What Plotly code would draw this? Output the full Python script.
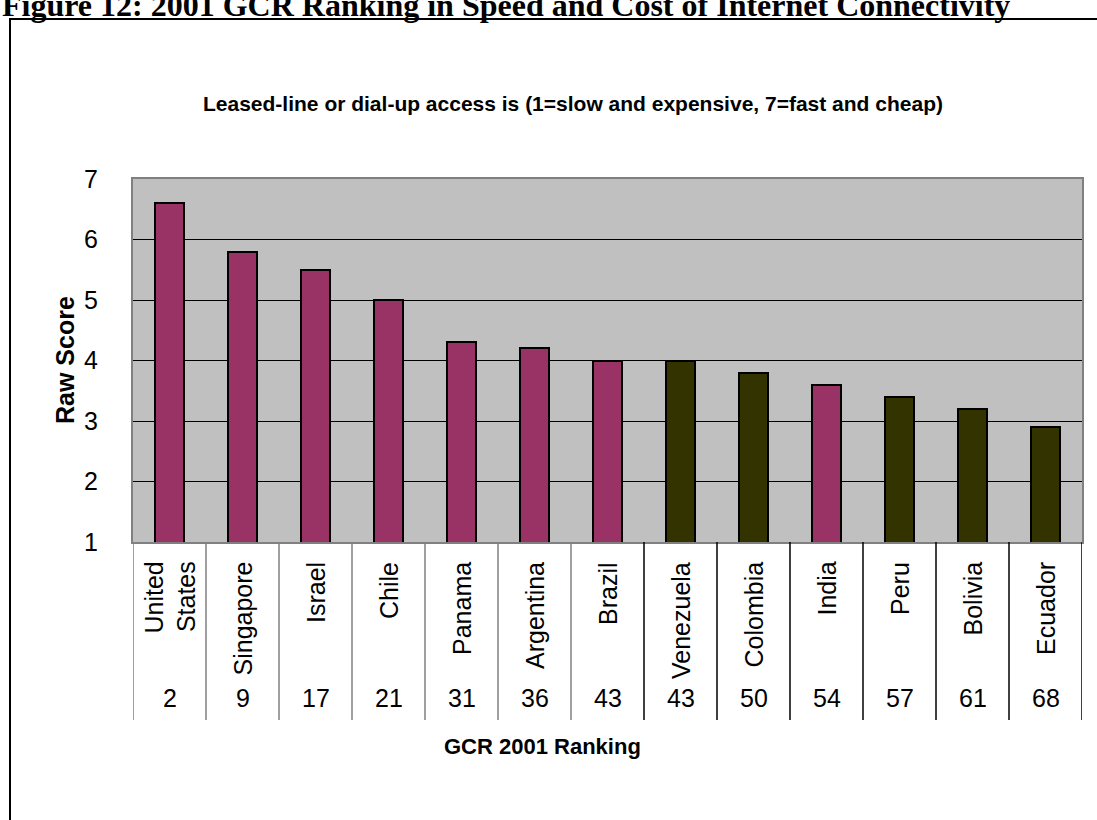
import plotly.graph_objects as go

# Leased-line / dial-up access scores with GCR 2001 rankings
countries = ["United States", "Singapore", "Israel", "Chile", "Panama", "Argentina",
             "Brazil", "Venezuela", "Colombia", "India", "Peru", "Bolivia", "Ecuador"]
country_labels = ["United<br>States", "Singapore", "Israel", "Chile", "Panama", "Argentina",
                  "Brazil", "Venezuela", "Colombia", "India", "Peru", "Bolivia", "Ecuador"]
raw_score = [6.6, 5.8, 5.5, 5.0, 4.3, 4.2, 4.0, 4.0, 3.8, 3.6, 3.4, 3.2, 2.9]
gcr_rank = [2, 9, 17, 21, 31, 36, 43, 43, 50, 54, 57, 61, 68]
group = ["a", "a", "a", "a", "a", "a", "a", "b", "b", "a", "b", "b", "b"]
y_ticks = [1, 2, 3, 4, 5, 6, 7]

group_colors = {"a": "#993366", "b": "#333300"}

W, H = 1097, 820
L, R, T, B = 133, 1082, 179, 542  # plot area in pixels


def px_x(px):
    return (px - L) / (R - L)


def px_y(py):
    return (B - py) / (B - T)


x_idx = list(range(len(countries)))

fig = go.Figure()
fig.add_trace(go.Bar(
    x=x_idx,
    y=raw_score,
    width=0.41,
    marker=dict(color=[group_colors[g] for g in group],
                line=dict(color="black", width=2)),
    hovertext=countries,
    showlegend=False,
))

sans = "Liberation Sans, Arial, sans-serif"

fig.update_layout(
    width=W, height=H,
    margin=dict(l=L, r=W - R, t=T, b=H - B, pad=0),
    paper_bgcolor="white",
    plot_bgcolor="#c0c0c0",
    font=dict(family=sans, color="black", size=25),
    bargap=0,
    xaxis=dict(range=[-0.5, len(countries) - 0.5], showticklabels=False,
               showgrid=False, zeroline=False, ticks="",
               showline=True, mirror=True, linecolor="#808080", linewidth=2),
    yaxis=dict(range=[1, 7], tickvals=y_ticks, showgrid=True, gridcolor="black",
               gridwidth=1, zeroline=False, ticks="", ticklabelstandoff=28,
               tickfont=dict(size=25),
               showline=True, mirror=True, linecolor="#808080", linewidth=2),
)

shapes = []
# Outer frame
shapes.append(dict(type="rect", xref="paper", yref="paper",
                   x0=px_x(10), x1=px_x(1110), y0=px_y(840), y1=px_y(19),
                   line=dict(color="black", width=2), fillcolor="rgba(0,0,0,0)",
                   layer="below"))
# Category table separators
for k in range(len(countries) + 1):
    col = "#808080" if k < 7 else "black"
    shapes.append(dict(type="line", xref="x", yref="paper",
                       x0=k - 0.5, x1=k - 0.5, y0=px_y(B), y1=px_y(720),
                       line=dict(color=col, width=1.5)))
fig.update_layout(shapes=shapes)

ann = []
for i, lab in enumerate(country_labels):
    ann.append(dict(x=i, y=px_y(560), xref="x", yref="paper", text=lab,
                    textangle=-90, showarrow=False, xanchor="center", yanchor="top",
                    align="right", font=dict(size=25)))
    ann.append(dict(x=i, y=px_y(698), xref="x", yref="paper", text=str(gcr_rank[i]),
                    showarrow=False, xanchor="center", yanchor="middle",
                    font=dict(size=25)))

ann.append(dict(x=px_x(542), y=px_y(746), xref="paper", yref="paper",
                text="<b>GCR 2001 Ranking</b>", showarrow=False,
                xanchor="center", yanchor="middle", font=dict(size=22)))
ann.append(dict(x=px_x(65), y=px_y(360), xref="paper", yref="paper",
                text="<b>Raw Score</b>", textangle=-90, showarrow=False,
                xanchor="center", yanchor="middle", font=dict(size=25)))
ann.append(dict(x=px_x(573), y=px_y(103), xref="paper", yref="paper",
                text="<b>Leased-line or dial-up access is (1=slow and expensive, 7=fast and cheap)</b>",
                showarrow=False, xanchor="center", yanchor="middle", font=dict(size=21)))
ann.append(dict(x=px_x(0), y=px_y(25), xref="paper", yref="paper",
                text="<b>Figure 12: 2001 GCR Ranking in Speed and Cost of Internet Connectivity</b>",
                showarrow=False, xanchor="left", yanchor="bottom",
                font=dict(family="Liberation Serif, Times New Roman, serif", size=32)))
fig.update_layout(annotations=ann)

fig.write_html("out.html")
